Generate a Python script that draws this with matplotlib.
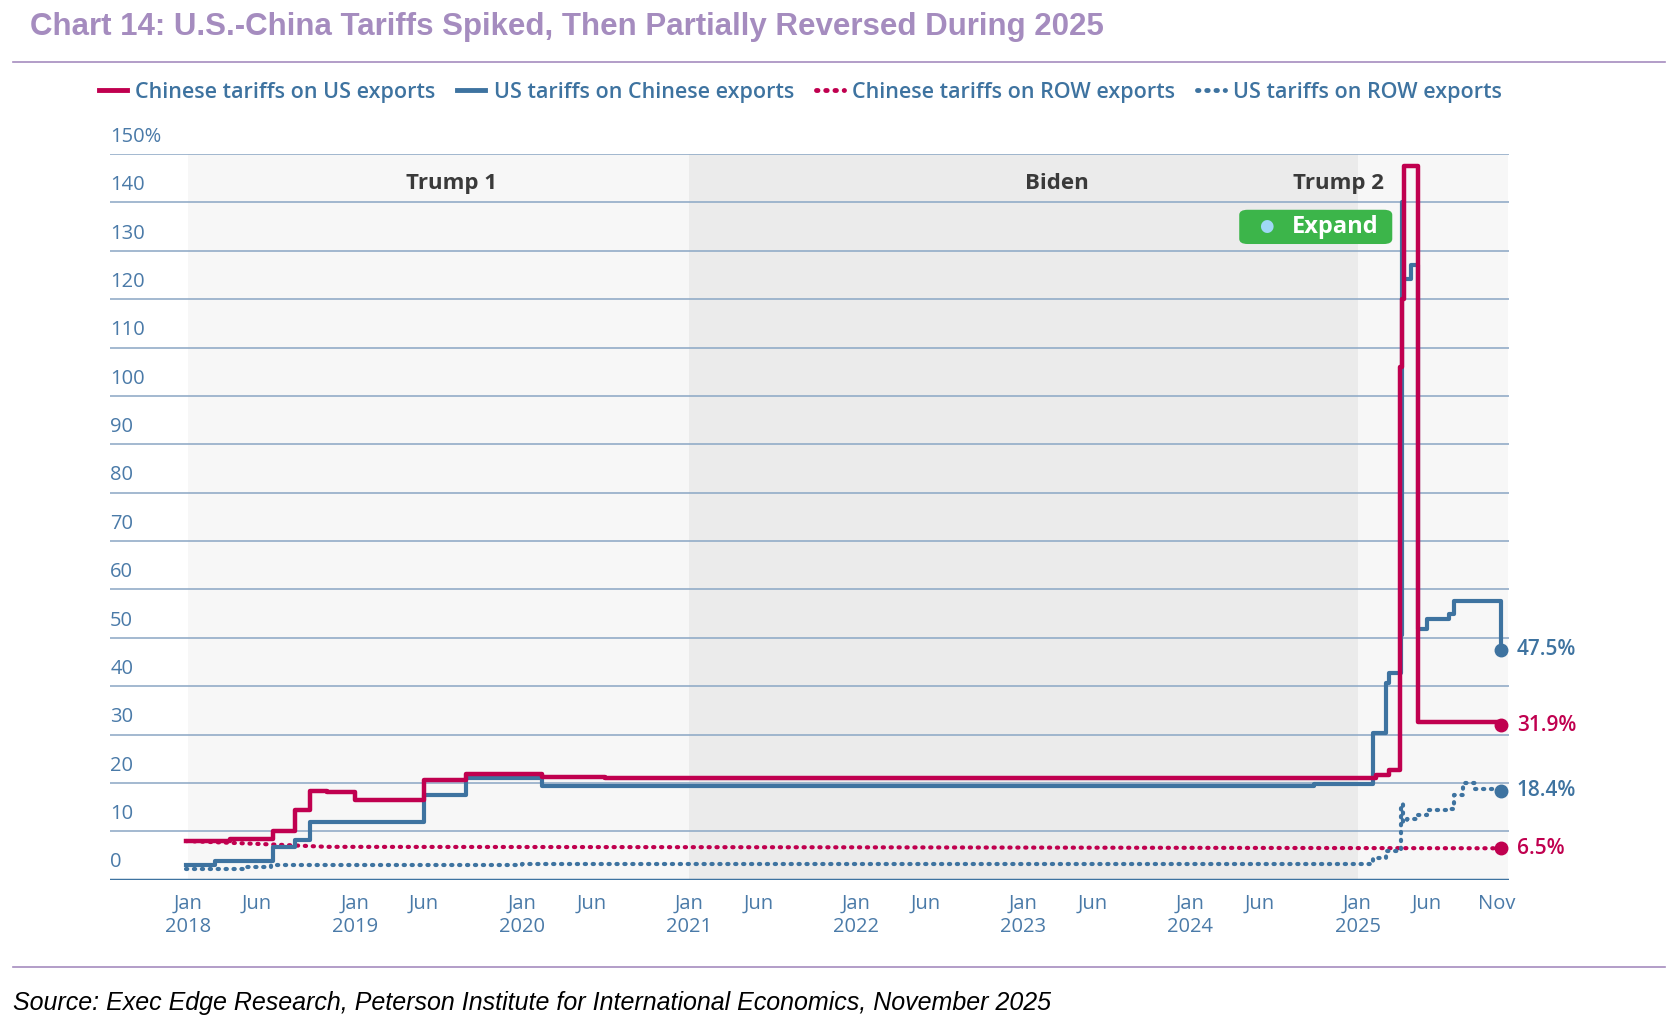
import matplotlib
matplotlib.use("Agg")
import matplotlib.pyplot as plt
import matplotlib.transforms as mtrans
from matplotlib.patches import FancyBboxPatch
from matplotlib.lines import Line2D
import pandas as pd

plt.rcParams['font.family'] = ['Open Sans', 'DejaVu Sans']

cn_us_dates = ["2017-12-28","2018-04-02","2018-07-06","2018-08-23","2018-09-24","2018-11-01","2019-01-01","2019-06-01","2019-09-01","2020-02-14","2020-07-01","2022-01-01","2025-02-10","2025-03-10","2025-04-04","2025-04-09","2025-04-12","2025-05-14","2025-11-10"]
cn_us_vals  = [8.0, 8.4, 10.1, 14.4, 18.3, 18.2, 16.5, 20.7, 21.8, 21.3, 21.1, 21.0, 21.7, 22.6, 106.0, 120.0, 147.6, 32.6, 31.9]

us_cn_dates = ["2017-12-28","2018-03-01","2018-07-06","2018-08-23","2018-09-24","2019-01-01","2019-06-01","2019-09-01","2020-02-14","2024-09-27","2025-02-04","2025-03-04","2025-03-10","2025-04-05","2025-04-09","2025-04-10","2025-04-28","2025-05-14","2025-06-01","2025-07-20","2025-08-01","2025-11-09","2025-11-10"]
us_cn_vals  = [3.1, 3.8, 6.7, 8.3, 12.0, 11.9, 17.5, 21.0, 19.3, 19.8, 30.3, 40.6, 42.8, 50.5, 140.0, 124.1, 127.0, 51.8, 54.0, 55.0, 57.6, 57.6, 47.5]

cn_row_dates = ["2017-12-28","2018-07-01","2018-11-01","2022-01-01","2025-11-10"]
cn_row_vals  = [8.0, 7.3, 6.8, 6.7, 6.5]

us_row_dates = ["2017-12-28","2018-05-01","2018-07-01","2020-01-01","2024-12-01","2025-01-20","2025-02-04","2025-03-04","2025-04-05","2025-04-10","2025-04-20","2025-05-14","2025-06-01","2025-07-20","2025-08-01","2025-08-20","2025-09-15","2025-11-10"]
us_row_vals  = [2.2, 2.6, 3.1, 3.2, 3.2, 3.3, 4.5, 6.0, 15.6, 12.0, 12.5, 13.3, 14.5, 14.6, 17.5, 20.0, 18.8, 18.4]

legend_labels = ["Chinese tariffs on US exports", "US tariffs on Chinese exports",
                 "Chinese tariffs on ROW exports", "US tariffs on ROW exports"]
end_labels = ["31.9%", "47.5%", "6.5%", "18.4%"]
eras = [("Trump 1", "2018-01-01", "2021-01-01"), ("Biden", "2021-01-01", "2025-01-01"), ("Trump 2", "2025-01-01", "2025-11-25")]

RED = "#c0004f"
BLUE = "#3e73a0"
PURP = "#a58cbf"
TICK = "#4a7aa8"

W, H = 1678, 1021
fig = plt.figure(figsize=(W/100, H/100), dpi=100)
ax = fig.add_axes([103/1568, 1-822/954, (1410-103)/1568, (822-144)/954])
D = pd.to_datetime

ax.set_xlim(D("2017-07-15"), D("2025-11-28"))
ax.set_ylim(0, 150)

era_cols = ["#f7f7f7", "#ebebeb", "#f7f7f7"]
for (name, s, e), c in zip(eras, era_cols):
    ax.axvspan(D(s), D(e), color=c, zorder=0, lw=0)
ax.text(D("2019-08-01"), 144, "Trump 1", ha="center", va="center", fontsize=16, fontweight="bold", color="#3a3a3a")
ax.text(D("2023-03-15"), 144, "Biden", ha="center", va="center", fontsize=16, fontweight="bold", color="#3a3a3a")
ax.text(D("2024-11-20"), 144, "Trump 2", ha="center", va="center", fontsize=16, fontweight="bold", color="#3a3a3a")

for y in range(10, 151, 10):
    ax.axhline(y, color="#8aa6c4", lw=1.1, zorder=1)
ax.axhline(0, color=BLUE, lw=2.5, zorder=2)

bt = mtrans.blended_transform_factory(ax.transAxes, ax.transData)
for y in range(0, 151, 10):
    ax.text(0.0, y + 1.5, f"{y}%" if y == 150 else str(y), transform=bt, ha="left", va="bottom",
            fontsize=14.5, color=TICK)

ax.step(D(cn_us_dates), cn_us_vals, where="post", color=RED, lw=3.2, zorder=5)
ax.step(D(us_cn_dates), us_cn_vals, where="post", color=BLUE, lw=3.0, zorder=4)
ax.plot(D(cn_row_dates), cn_row_vals, color=RED, lw=3, ls=(0, (0.3, 1.6)), dash_capstyle="round", zorder=3)
ax.step(D(us_row_dates), us_row_vals, where="post", color=BLUE, lw=3, ls=(0, (0.3, 1.6)), dash_capstyle="round", zorder=3)

endx = D("2025-11-10")
for v, lab, c in zip([cn_us_vals[-1], us_cn_vals[-1], cn_row_vals[-1], us_row_vals[-1]], end_labels, [RED, BLUE, RED, BLUE]):
    ax.plot([endx], [v], "o", color=c, ms=9, zorder=6)
    ax.text(D("2025-12-15"), v, lab, ha="left", va="center", fontsize=15, color=c, fontweight="semibold", clip_on=False)

bx = FancyBboxPatch((1158/1568, 1-228/954), 143/1568, 32/954, boxstyle="round,pad=0,rounding_size=0.005",
                    transform=fig.transFigure, facecolor="#3cb54a", edgecolor="none", zorder=10)
fig.patches.append(bx)
fig.text(1183/1568, 1-212/954, "●", ha="center", va="center", color="#9fd8f5", fontsize=12, zorder=11)
fig.text(1248/1568, 1-212/954, "Expand", ha="center", va="center", color="white", fontsize=17, fontweight="bold", zorder=11)

for sp in ax.spines.values():
    sp.set_visible(False)
ax.set_yticks([])
ticks, labels = [], []
for yr in range(2018, 2026):
    ticks.append(D(f"{yr}-01-01")); labels.append(f"Jan\n{yr}")
    if yr < 2025:
        ticks.append(D(f"{yr}-06-01")); labels.append("Jun")
ticks += [D("2025-06-01"), D("2025-11-01")]
labels += ["Jun", "Nov"]
ax.set_xticks(ticks)
ax.set_xticklabels(labels, fontsize=14.5, color=TICK, linespacing=1.2, va="top")
ax.tick_params(axis="x", length=0, pad=10)

handles = [Line2D([], [], color=RED, lw=3.5), Line2D([], [], color=BLUE, lw=3.5),
           Line2D([], [], color=RED, lw=3.5, ls=(0, (0.3, 1.6)), dash_capstyle="round"),
           Line2D([], [], color=BLUE, lw=3.5, ls=(0, (0.3, 1.6)), dash_capstyle="round")]
leg = fig.legend(handles, legend_labels, loc="center", bbox_to_anchor=(748/1568, 1-86/954), ncol=4,
                 frameon=False, fontsize=15.5, handlelength=1.3, handletextpad=0.4, columnspacing=1.0)
for t in leg.get_texts():
    t.set_color(BLUE)
    t.set_fontweight("semibold")

fig.text(28/1568, 1-25/954, "Chart 14: U.S.-China Tariffs Spiked, Then Partially Reversed During 2025",
         fontsize=22.5, fontweight="bold", color=PURP, va="center", family=["Liberation Sans", "DejaVu Sans"])
fig.add_artist(Line2D([12/1568, 1556/1568], [1-58/954]*2, color=PURP, lw=1.2, transform=fig.transFigure))
fig.add_artist(Line2D([12/1568, 1556/1568], [1-904/954]*2, color=PURP, lw=1.2, transform=fig.transFigure))
fig.text(12/1568, 1-937/954, "Source: Exec Edge Research, Peterson Institute for International Economics, November 2025",
         fontsize=18, style="italic", color="black", va="center", family=["Liberation Sans", "DejaVu Sans"])

fig.savefig("out.png", dpi=100, facecolor="white")
